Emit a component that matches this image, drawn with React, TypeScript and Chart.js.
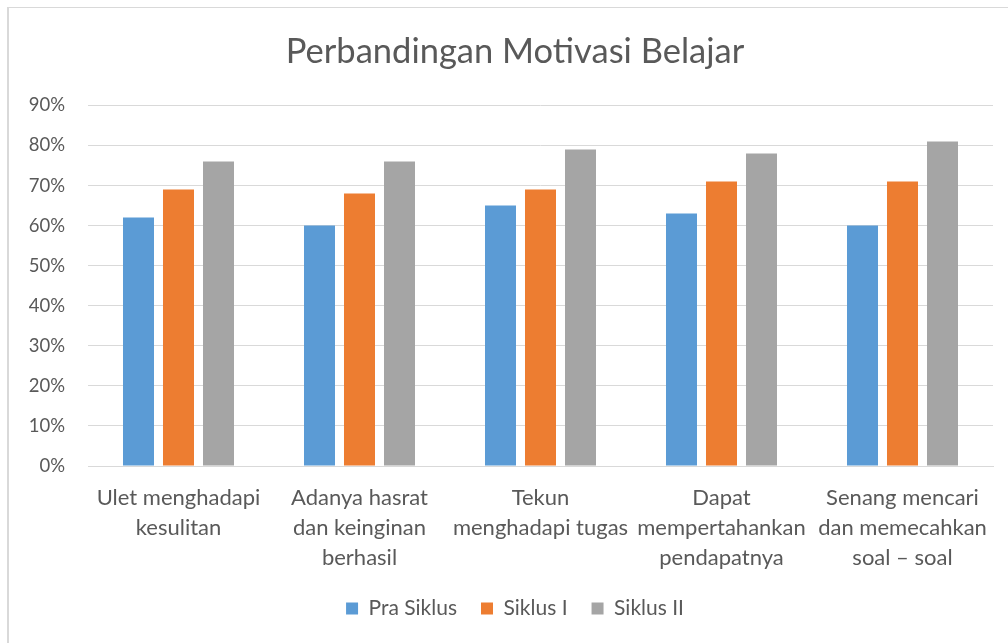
import React, { useEffect, useRef } from "react";
import { Chart, registerables } from "chart.js";

Chart.register(...registerables);

const categories: string[][] = [
  ["Ulet menghadapi", "kesulitan"],
  ["Adanya hasrat", "dan keinginan", "berhasil"],
  ["Tekun", "menghadapi tugas"],
  ["Dapat", "mempertahankan", "pendapatnya"],
  ["Senang mencari", "dan memecahkan", "soal – soal"],
];
const praSiklus = [62, 60, 65, 63, 60];
const siklusI = [69, 68, 69, 71, 71];
const siklusII = [76, 76, 79, 78, 81];
const seriesNames = ["Pra Siklus", "Siklus I", "Siklus II"];
const yTicks = [0, 10, 20, 30, 40, 50, 60, 70, 80, 90];

const FONT = "Lato, 'Open Sans', sans-serif";
const TEXT = "#595959";

export default function App() {
  const ref = useRef<HTMLCanvasElement | null>(null);
  useEffect(() => {
    if (!ref.current) return;
    const chart = new Chart(ref.current, {
      type: "bar",
      data: {
        labels: categories,
        datasets: [
          { label: seriesNames[0], data: praSiklus, backgroundColor: "#5B9BD5" },
          { label: seriesNames[1], data: siklusI, backgroundColor: "#ED7D31" },
          { label: seriesNames[2], data: siklusII, backgroundColor: "#A5A5A5" },
        ],
      },
      options: {
        responsive: false,
        animation: false,
        layout: { padding: { left: 22, right: 0, top: 0, bottom: 14 } },
        datasets: { bar: { barPercentage: 0.775, categoryPercentage: 0.663 } },
        plugins: {
          title: {
            display: true,
            text: "Perbandingan Motivasi Belajar",
            color: TEXT,
            font: { family: FONT, size: 34.5, weight: "normal" },
            padding: { top: 31, bottom: 33 },
          },
          legend: {
            position: "bottom",
            labels: {
              color: TEXT,
              font: { family: FONT, size: 21 },
              boxWidth: 12,
              boxHeight: 12,
              padding: 24,
            },
          },
          tooltip: { enabled: false },
        },
        scales: {
          x: {
            grid: { display: false, drawTicks: false },
            border: { display: true, color: "#D9D9D9", width: 1 },
            ticks: {
              color: TEXT,
              font: { family: FONT, size: 22, lineHeight: 1.364 },
              padding: 17,
              maxRotation: 0,
              autoSkip: false,
            },
            afterFit: (s: any) => {
              s.height = 108;
            },
          },
          y: {
            min: 0,
            max: 90,
            afterBuildTicks: (s: any) => {
              s.ticks = yTicks.map((v) => ({ value: v }));
            },
            grid: { color: "#D9D9D9", lineWidth: 1, drawTicks: false },
            border: { display: false },
            ticks: {
              color: TEXT,
              font: { family: FONT, size: 18.5 },
              padding: 23,
              callback: (v: any) => v + "%",
            },
            afterFit: (s: any) => {
              s.width = 66;
            },
          },
          yRightSpace: {
            position: "right",
            display: true,
            min: 0,
            max: 90,
            grid: { display: false, drawTicks: false },
            border: { display: false },
            ticks: { display: false },
            afterFit: (s: any) => {
              s.width = 15;
            },
          },
        },
      },
    });
    return () => chart.destroy();
  }, []);
  return (
    <div style={{ position: "fixed", left: 0, top: 0, width: 1008, height: 643, background: "#fff" }}>
      <div
        style={{
          position: "absolute",
          left: 7,
          top: 7,
          width: 1010,
          height: 650,
          borderTop: "1px solid #D9D9D9",
          borderLeft: "2px solid #D9D9D9",
          boxSizing: "border-box",
        }}
      />
      <canvas ref={ref} width={1008} height={643} style={{ position: "absolute", left: 0, top: 0 }} />
    </div>
  );
}
